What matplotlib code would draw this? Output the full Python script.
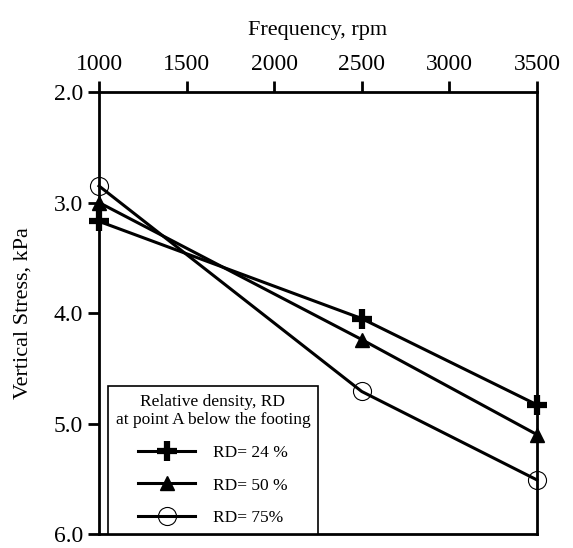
import matplotlib.pyplot as plt
from matplotlib import font_manager

# Pick a Times-like serif face that is really installed (regular weight)
serif_name = 'DejaVu Serif'
for cand in ['Liberation Serif', 'TeX Gyre Termes', 'FreeSerif']:
    hits = [f for f in font_manager.fontManager.ttflist
            if f.name == cand and f.style == 'normal' and f.weight in (400, 'normal', 'regular')]
    if hits:
        serif_name = cand
        break
plt.rcParams['font.family'] = [serif_name, 'DejaVu Serif']

# Data
frequency = [1000, 2500, 3500]
rd24 = [3.17, 4.05, 4.83]
rd50 = [3.00, 4.24, 5.10]
rd75 = [2.85, 4.71, 5.51]

x_ticks = [1000, 1500, 2000, 2500, 3000, 3500]
y_ticks = [2.0, 3.0, 4.0, 5.0, 6.0]

fig = plt.figure(figsize=(5.73, 5.48), dpi=100)
ax = fig.add_axes([0.1728, 0.0255, 0.937 - 0.1728, 0.832 - 0.0255])

ax.plot(frequency, rd24, color='black', lw=2.2, marker='+', ms=14, mew=4.5,
        label='RD= 24 %', clip_on=False)
ax.plot(frequency, rd50, color='black', lw=2.2, marker='^', ms=10,
        label='RD= 50 %', clip_on=False)
ax.plot(frequency, rd75, color='black', lw=2.2, marker='o', ms=13,
        mfc='none', mew=0.8, label='RD= 75%', clip_on=False)

ax.set_xlim(1000, 3500)
ax.set_ylim(6.0, 2.0)
ax.xaxis.tick_top()
ax.xaxis.set_label_position('top')
ax.set_xticks(x_ticks)
ax.set_yticks(y_ticks)
ax.set_yticklabels([f'{v:.1f}' for v in y_ticks])
ax.tick_params(axis='both', direction='out', length=8, width=2, labelsize=17,
               colors='black')
ax.tick_params(axis='x', pad=4)
ax.set_xlabel('Frequency, rpm', fontsize=16, labelpad=14)
ax.set_ylabel('Vertical Stress, kPa', fontsize=16, labelpad=15)
for sp in ax.spines.values():
    sp.set_linewidth(2)
    sp.set_color('black')

leg = ax.legend(loc='lower left', bbox_to_anchor=(0.02, 0.0), borderaxespad=0,
                title='Relative density, RD\nat point A below the footing',
                fontsize=12.5, title_fontsize=12.5, frameon=True, fancybox=False,
                edgecolor='black', handlelength=3.3, labelspacing=0.95,
                handletextpad=1.0, borderpad=0.45)
leg.get_frame().set_linewidth(1.2)
leg.get_frame().set_alpha(1)
leg.get_title().set_multialignment('center')
leg._legend_box.align = 'center'

fig.savefig('out.png', dpi=100, facecolor='white')
